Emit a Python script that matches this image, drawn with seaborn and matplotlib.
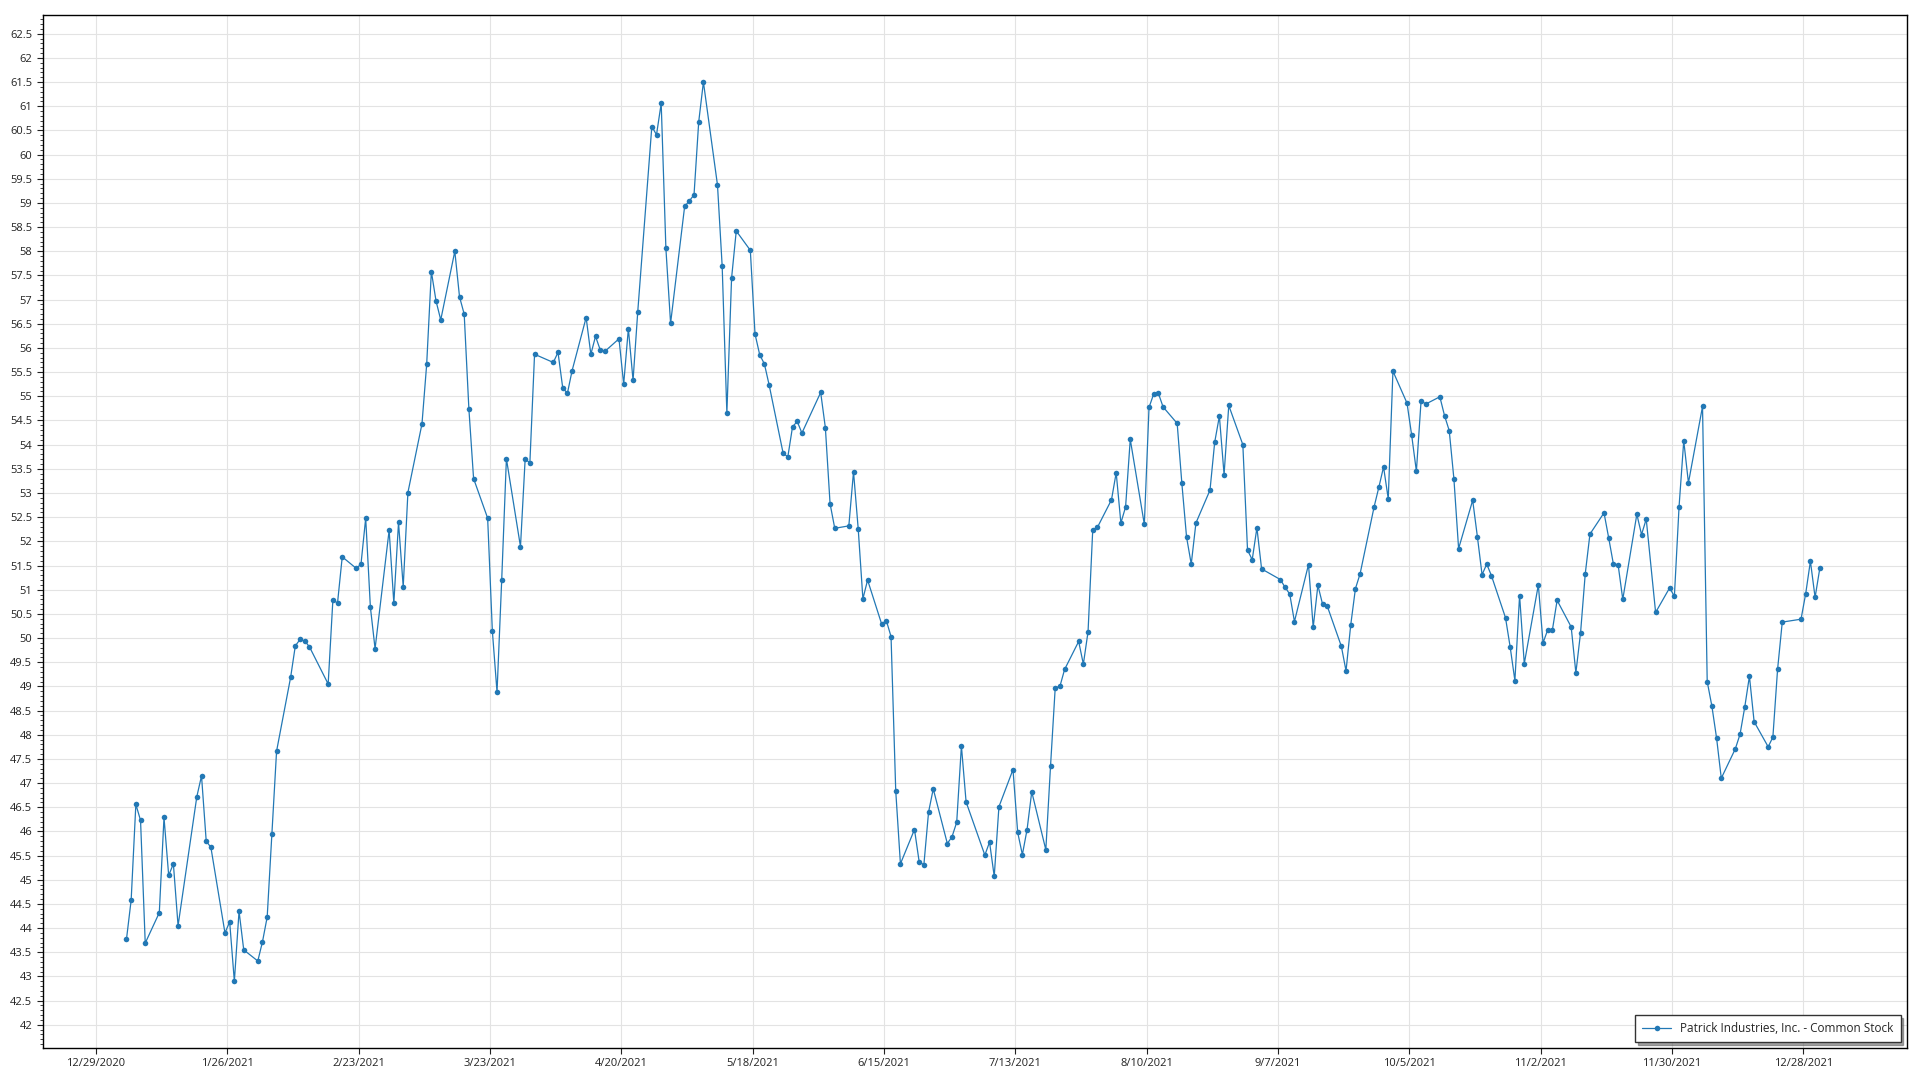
import seaborn as sns
import matplotlib.pyplot as plt
import matplotlib.ticker as mticker
import numpy as np
import pandas as pd

# closing prices per month
jan = [43.77, 44.58, 46.56, 46.23, 43.69, 44.32, 46.29, 45.09, 45.33, 44.05,
       46.72, 47.15, 45.80, 45.67, 43.90, 44.13, 42.90, 44.35, 43.55]
feb = [43.32, 43.72, 44.23, 45.95, 47.66, 49.19, 49.84, 49.97, 49.94, 49.82,
       49.05, 50.78, 50.73, 51.68, 51.44, 51.53, 52.48, 50.64, 49.78]
mar = [52.23, 50.72, 52.39, 51.06, 53.01, 54.43, 55.66, 57.58, 56.97, 56.58,
       58.00, 57.06, 56.70, 54.74, 53.30, 52.48, 50.15, 48.88, 51.21, 53.71,
       51.89, 53.71, 53.62]
apr = [55.87, 55.70, 55.91, 55.18, 55.06, 55.53, 56.63, 55.87, 56.24, 55.96,
       55.93, 56.19, 55.25, 56.40, 55.33, 56.75, 60.58, 60.41, 61.06, 58.06,
       56.51]
may = [58.93, 59.04, 59.17, 60.68, 61.50, 59.37, 57.69, 54.65, 57.44, 58.42,
       58.02, 56.29, 55.86, 55.67, 55.24, 53.82, 53.75, 54.37, 54.48, 54.24]
jun = [55.08, 54.35, 52.78, 52.27, 52.32, 53.44, 52.26, 50.81, 51.20, 50.29,
       50.36, 50.03, 46.84, 45.33, 46.04, 45.37, 45.31, 46.40, 46.88, 45.75,
       45.89, 46.19]
jul = [47.77, 46.61, 45.51, 45.78, 45.07, 46.51, 47.28, 45.98, 45.52, 46.04,
       46.82, 45.62, 47.35, 48.97, 49.00, 49.35, 49.93, 49.46, 50.13, 52.24,
       52.29]
aug = [52.86, 53.42, 52.38, 52.71, 54.11, 52.35, 54.77, 55.05, 55.06, 54.78,
       54.44, 53.20, 52.09, 51.53, 52.38, 53.06, 54.05, 54.59, 53.38, 54.81,
       54.00, 51.82]
sep = [51.62, 52.28, 51.43, 51.21, 51.05, 50.91, 50.34, 51.52, 50.22, 51.09,
       50.70, 50.66, 49.83, 49.32, 50.27, 51.02, 51.33, 52.72, 53.12, 53.54,
       52.88]
oct_ = [55.52, 54.86, 54.19, 53.45, 54.91, 54.84, 54.99, 54.60, 54.29, 53.29,
        51.85, 52.85, 52.10, 51.31, 51.53, 51.29, 50.42, 49.81, 49.12, 50.88,
        49.47]
nov = [51.10, 49.90, 50.17, 50.17, 50.78, 50.23, 49.28, 50.11, 51.33, 52.15,
       52.59, 52.07, 51.53, 51.52, 50.80, 52.56, 52.14, 52.46, 50.53, 51.04,
       50.86]
dec = [52.72, 54.08, 53.21, 54.79, 49.10, 48.59, 47.93, 47.10, 47.71, 48.01,
       48.57, 49.21, 48.27, 47.75, 47.95, 49.35, 50.33, 50.39, 50.92, 51.59,
       50.84, 51.44]

# NYSE holidays 2021 (market closed)
holidays = ['2021-01-01', '2021-01-18', '2021-02-15', '2021-04-02', '2021-05-31',
            '2021-07-05', '2021-09-06', '2021-11-25', '2021-12-24']
dates = pd.bdate_range('2021-01-04', '2021-12-31', freq='C', holidays=holidays)

prices = jan + feb + mar + apr + may + jun + jul + aug + sep + oct_ + nov + dec
df = pd.DataFrame({'date': dates + pd.Timedelta(hours=12), 'price': prices})

series_name = 'Patrick Industries, Inc. - Common Stock'
tick_dates = pd.date_range('2020-12-29', periods=14, freq='28D')
tick_labels = [f'{d.month}/{d.day}/{d.year}' for d in tick_dates]

sns.set_style('white')
plt.rcParams['font.family'] = ['Open Sans', 'DejaVu Sans']

fig = plt.figure(figsize=(19.2, 10.8), dpi=100)
ax = fig.add_axes([0.0222, 0.0296, 0.9708, 0.9562])

sns.lineplot(data=df, x='date', y='price', ax=ax, color='#2278b5',
             linewidth=0.9, marker='o', markersize=4, markeredgewidth=0,
             label=series_name)

ax.set_xlim(pd.Timestamp('2020-12-17 15:00'), pd.Timestamp('2022-01-19'))
ax.set_ylim(41.52, 62.88)

ax.set_xticks(tick_dates)
ax.set_xticklabels(tick_labels)
ax.set_yticks(np.arange(42, 62.51, 0.5))
ax.yaxis.set_major_formatter(mticker.FormatStrFormatter('%g'))
ax.yaxis.set_minor_locator(mticker.MultipleLocator(0.1))

ax.tick_params(axis='both', which='major', direction='out', length=4,
               width=0.8, labelsize=8, colors='#222222', left=True, bottom=True)
ax.tick_params(axis='y', which='minor', direction='out', length=2, width=0.6,
               left=True, colors='#222222')
ax.set_xlabel('')
ax.set_ylabel('')

ax.grid(True, which='major', color='#e3e3e3', linewidth=0.8)
ax.set_axisbelow(True)
for s in ax.spines.values():
    s.set_color('black')
    s.set_linewidth(1.0)

leg = ax.legend(loc='lower right', frameon=True, shadow=True, fancybox=False,
                fontsize=8.5, borderaxespad=0.5, borderpad=0.6,
                handlelength=2.4)
leg.get_frame().set_edgecolor('#333333')
leg.get_frame().set_linewidth(1.0)

fig.savefig('out.png', dpi=100)
plt.close()
